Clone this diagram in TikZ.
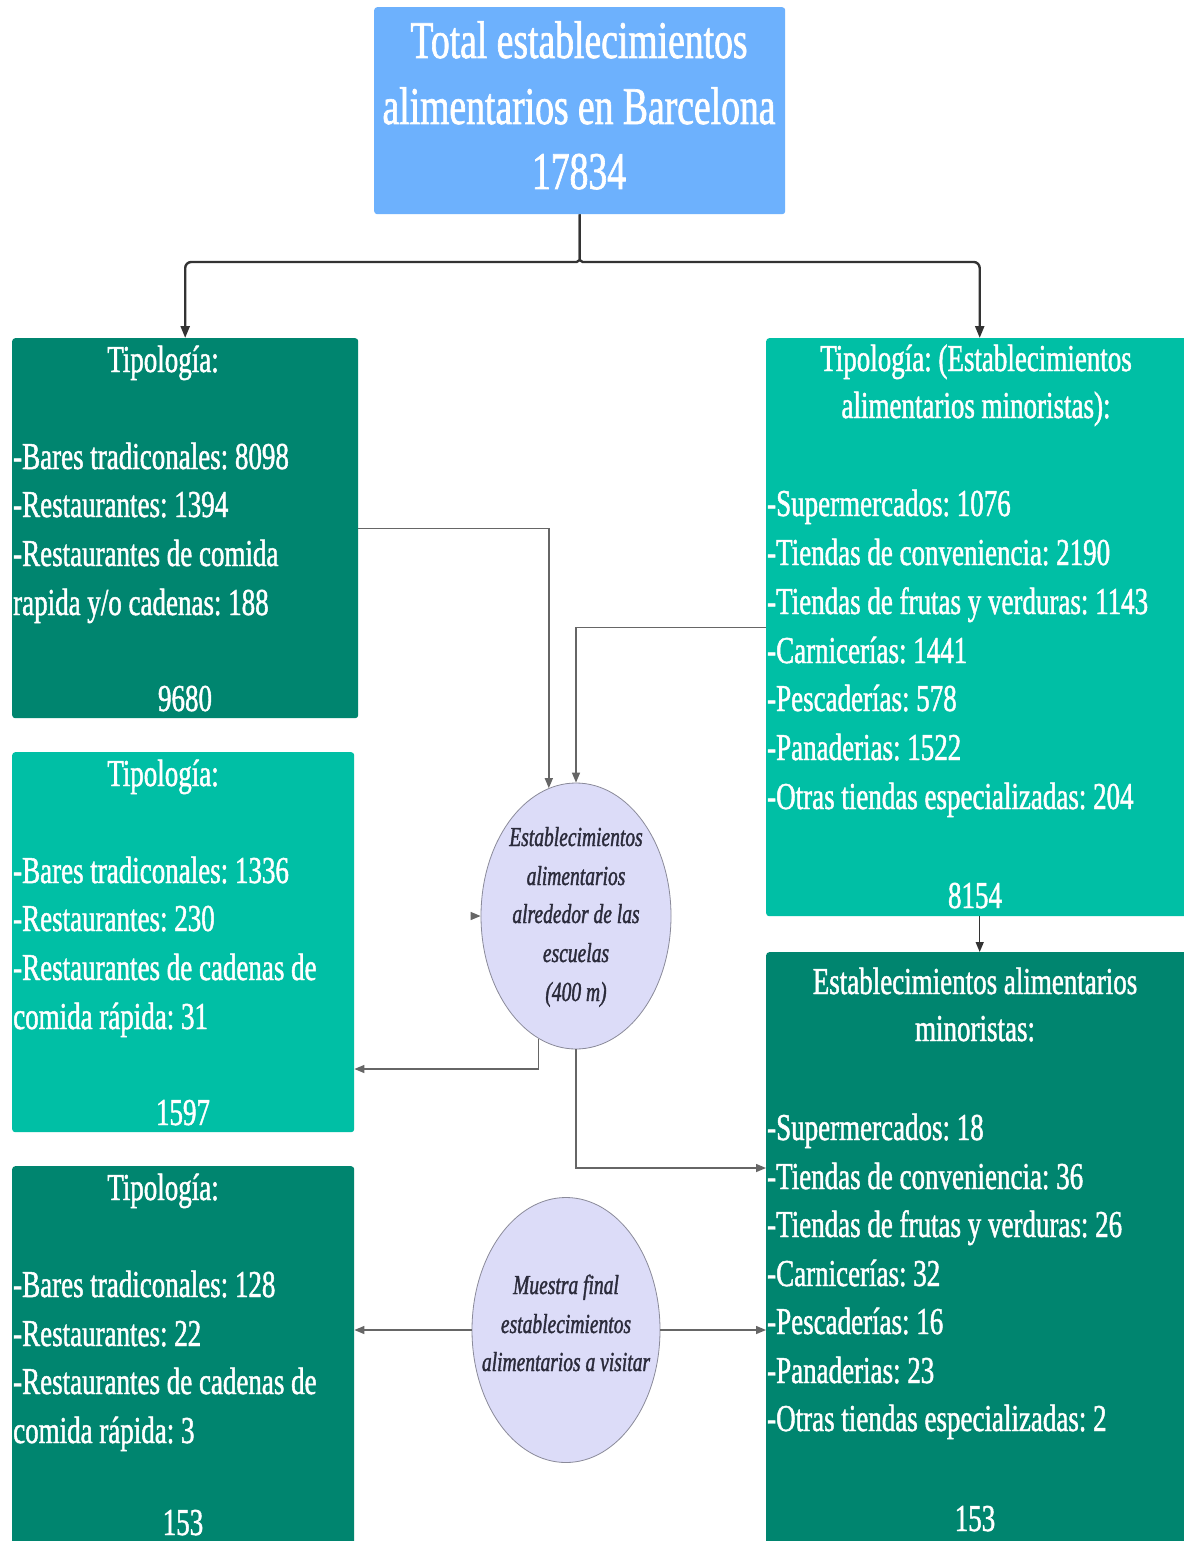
\documentclass[tikz,border=0pt]{standalone}
\usepackage{fontspec}
\setmainfont[FakeStretch=0.71,FakeBold=1.2,ItalicFeatures={FakeBold=1.3}]{Liberation Serif}
\usetikzlibrary{arrows.meta,shapes.geometric,calc}
\definecolor{dkgreen}{HTML}{00856F}
\definecolor{teal}{HTML}{00BFA5}
\definecolor{topblue}{HTML}{6DB1FD}
\definecolor{lav}{HTML}{DCDCF8}
\definecolor{ellline}{HTML}{8A8A99}
\definecolor{elltext}{HTML}{2B2B3B}
\definecolor{conncol}{HTML}{666666}
\definecolor{topcol}{HTML}{333333}
\tikzset{
  box/.style={rectangle, rounded corners=3pt, inner sep=0pt, draw=none, anchor=north west},
  txt/.style={text=white, font=\frenchspacing\fontsize{38}{49}\selectfont, inner sep=0pt},
  ttl/.style={text=white, font=\frenchspacing\fontsize{53}{65}\selectfont, inner sep=0pt, anchor=base},
  lst/.style={txt, anchor=base west},
  hd/.style={txt, anchor=base},
  oval/.style={ellipse, fill=lav, draw=ellline, line width=0.8pt, inner sep=0pt},
  etx/.style={text=elltext, font=\frenchspacing\itshape\fontsize{27.5}{39}\selectfont, inner sep=0pt, anchor=base},
  conn/.style={draw=conncol, line width=1.4pt, -{Triangle[length=10pt,width=8pt]}},
  topconn/.style={draw=topcol, line width=2.4pt, -{Triangle[length=12pt,width=9pt]}},
}
\begin{document}
\begin{tikzpicture}[x=1pt,y=-1pt]
\useasboundingbox (0,0) rectangle (1183,1541);
\fill[white] (0,0) rectangle (1183,1541);

% boxes
\node[box, fill=topblue, minimum width=411, minimum height=207] (T) at (374,7) {};
\node[box, fill=dkgreen, minimum width=346, minimum height=380] (L1) at (12,338) {};
\node[box, fill=teal, minimum width=342, minimum height=380] (L2) at (12,752) {};
\node[box, fill=dkgreen, minimum width=342, minimum height=385] (L3) at (12,1166) {};
\node[box, fill=teal, minimum width=427, minimum height=578] (R1) at (766,338) {};
\node[box, fill=dkgreen, minimum width=427, minimum height=599] (R2) at (766,952) {};
\node[oval, minimum width=190, minimum height=266] (E1) at (576,916) {};
\node[oval, minimum width=188, minimum height=265] (E2) at (566,1330) {};

% title
\node[ttl] (t1) at (579,58) {Total establecimientos};
\node[ttl] (t2) at (579,124) {alimentarios en Barcelona};
\node[ttl] (t3) at (579,189) {17834};

% L1
\node[hd] (l1h) at (163,372) {Tipología:};
\node[lst] (l1a) at (13,469) {-Bares tradiconales: 8098};
\node[lst] (l1b) at (13,517) {-Restaurantes: 1394};
\node[lst] (l1c) at (13,566) {-Restaurantes de comida};
\node[lst] (l1d) at (13,615) {rapida y/o cadenas: 188};
\node[hd] (l1n) at (185,711) {9680};

% L2
\node[hd] (l2h) at (163,786) {Tipología:};
\node[lst] (l2a) at (13,883) {-Bares tradiconales: 1336};
\node[lst] (l2b) at (13,931) {-Restaurantes: 230};
\node[lst] (l2c) at (13,980) {-Restaurantes de cadenas de};
\node[lst] (l2d) at (13,1029) {comida rápida: 31};
\node[hd] (l2n) at (183,1125) {1597};

% L3
\node[hd] (l3h) at (163,1200) {Tipología:};
\node[lst] (l3a) at (13,1297) {-Bares tradiconales: 128};
\node[lst] (l3b) at (13,1346) {-Restaurantes: 22};
\node[lst] (l3c) at (13,1394) {-Restaurantes de cadenas de};
\node[lst] (l3d) at (13,1443) {comida rápida: 3};
\node[hd] (l3n) at (183,1535) {153};

% R1
\node[hd] (r1h1) at (976,371) {Tipología: (Establecimientos};
\node[hd] (r1h2) at (976,418) {alimentarios minoristas):};
\node[lst] (r1a) at (767,516) {-Supermercados: 1076};
\node[lst] (r1b) at (767,565) {-Tiendas de conveniencia: 2190};
\node[lst] (r1c) at (767,614) {-Tiendas de frutas y verduras: 1143};
\node[lst] (r1d) at (767,663) {-Carnicerías: 1441};
\node[lst] (r1e) at (767,711) {-Pescaderías: 578};
\node[lst] (r1f) at (767,760) {-Panaderias: 1522};
\node[lst] (r1g) at (767,809) {-Otras tiendas especializadas: 204};
\node[hd] (r1n) at (975,908) {8154};

% R2
\node[hd] (r2h1) at (975,994) {Establecimientos alimentarios};
\node[hd] (r2h2) at (975,1041) {minoristas:};
\node[lst] (r2a) at (767,1140) {-Supermercados: 18};
\node[lst] (r2b) at (767,1189) {-Tiendas de conveniencia: 36};
\node[lst] (r2c) at (767,1237) {-Tiendas de frutas y verduras: 26};
\node[lst] (r2d) at (767,1286) {-Carnicerías: 32};
\node[lst] (r2e) at (767,1334) {-Pescaderías: 16};
\node[lst] (r2f) at (767,1383) {-Panaderias: 23};
\node[lst] (r2g) at (767,1431) {-Otras tiendas especializadas: 2};
\node[hd] (r2n) at (975,1531) {153};

% ellipse texts
\node[etx] (e1a) at (576,846) {Establecimientos};
\node[etx] (e1b) at (576,885) {alimentarios};
\node[etx] (e1c) at (576,923) {alrededor de las};
\node[etx] (e1d) at (576,962) {escuelas};
\node[etx] (e1e) at (576,1001) {(400 m)};
\node[etx] (e2a) at (566,1294) {Muestra final};
\node[etx] (e2b) at (566,1333) {establecimientos};
\node[etx] (e2c) at (566,1371) {alimentarios a visitar};

% top brace connector
\coordinate (j) at (T.south |- 0,262);
\draw[topconn, rounded corners=6pt] (T.south) -- ($(j)+(0,-8)$) .. controls ($(j)+(0,-2)$) and ($(j)+(-3,0)$) .. ($(j)+(-9,0)$) -| (L1.north);
\draw[topconn, rounded corners=6pt] (T.south) -- ($(j)+(0,-8)$) .. controls ($(j)+(0,-2)$) and ($(j)+(3,0)$) .. ($(j)+(9,0)$) -| (R1.north);
\draw[draw=topcol, line width=1.4pt, -{Triangle[length=10pt,width=8pt]}] (R1.south) -- (R2.north);

% other connectors
\coordinate (c1) at (0,1069);
\coordinate (c2) at (0,1168);
\coordinate (stub) at ($(E1.west)+(-10,0)$);
\draw[conn] (L1.east) -| (E1.102);
\draw[conn] (R1.west) -| (E1.north);
\draw[conn] (stub) -- (E1.west);
\draw[conn] (E1.253) |- (L2.east |- c1);
\draw[conn] (E1.south) |- (R2.west |- c2);
\draw[conn] (E2.west) -- (E2.west -| L3.east);
\draw[conn] (E2.east) -- (E2.east -| R2.west);
\end{tikzpicture}
\end{document}
